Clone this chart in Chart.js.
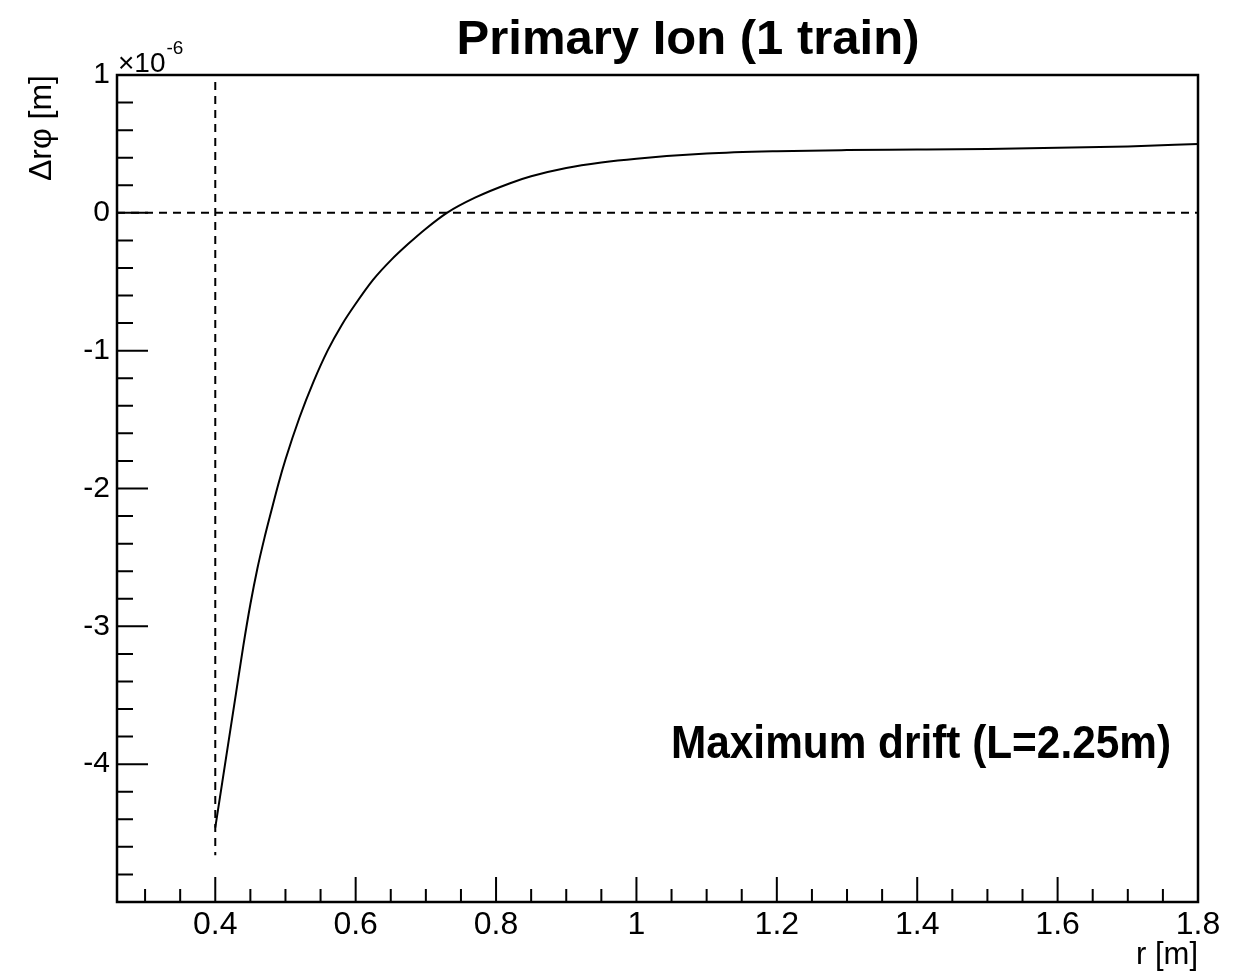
<!DOCTYPE html>
<html><head><meta charset="utf-8">
<script src="https://cdn.jsdelivr.net/npm/chart.js@4.4.1/dist/chart.umd.min.js"></script>
<style>html,body{margin:0;padding:0;background:#fff;}#wrap{width:1245px;height:971px;}</style>
</head><body><div id="wrap"><canvas id="c" width="1245" height="971"></canvas></div>
<script>
// ---- data (Δrφ in units of 1e-6 m) ----
const rValues     = [0.40,0.41,0.42,0.43,0.44,0.45,0.46,0.47,0.48,0.49,0.50,0.52,0.54,0.56,0.58,0.60,0.625,0.65,0.675,0.70,0.73,0.77,0.82,0.85,0.90,0.95,1.00,1.10,1.20,1.30,1.40,1.50,1.60,1.70,1.80];
const drphiValues = [-4.46,-4.13,-3.80,-3.47,-3.14,-2.84,-2.58,-2.36,-2.16,-1.965,-1.79,-1.485,-1.225,-1.00,-0.815,-0.66,-0.485,-0.345,-0.225,-0.115,0.00,0.11,0.215,0.265,0.325,0.365,0.393,0.43,0.447,0.455,0.459,0.464,0.472,0.482,0.499];
const zeroLineX   = [0.26, 1.80];
const zeroLineY   = [0, 0];
const markerLineX = [0.40, 0.40];
const markerLineY = [0.95, -4.66];
const xTickValues = [0.4,0.6,0.8,1.0,1.2,1.4,1.6,1.8];
const yTickValues = [-4,-3,-2,-1,0,1];
const xRange = [0.26, 1.80];
const yRange = [-5, 1];
const titleText = 'Primary Ion (1 train)';
const noteText  = 'Maximum drift (L=2.25m)';
const xTitleText = 'r [m]';
const yTitleText = 'Δrφ [m]';
const FONT = "'Liberation Sans', Arial, Helvetica, sans-serif";

const toPts = (xs, ys) => xs.map((x, i) => ({x, y: ys[i]}));

const rootPlugin = {
  id: 'rootStyle',
  afterDraw(chart) {
    const ctx = chart.ctx, a = chart.chartArea;
    const xs = chart.scales.x, ys = chart.scales.y;
    ctx.save();
    ctx.strokeStyle = '#000';
    ctx.fillStyle = '#000';
    ctx.lineWidth = 2;
    ctx.beginPath();
    for (let k = 0; k <= 30; k++) {
      const v = yRange[0] + k * 0.2;
      const p = ys.getPixelForValue(v);
      const major = Math.abs(v - Math.round(v)) < 1e-6;
      ctx.moveTo(a.left, p); ctx.lineTo(a.left + (major ? 31 : 16), p);
    }
    for (let k = 6; k <= 36; k++) {
      const v = k * 0.05;
      if (v < xRange[0] || v > xRange[1] + 1e-9) continue;
      const p = xs.getPixelForValue(v);
      const major = Math.abs(v * 5 - Math.round(v * 5)) < 1e-6;
      ctx.moveTo(p, a.bottom); ctx.lineTo(p, a.bottom - (major ? 25 : 13));
    }
    ctx.stroke();
    ctx.lineWidth = 2.5;
    ctx.strokeRect(a.left, a.top, a.right - a.left, a.bottom - a.top);
    // title
    ctx.font = 'bold 49px ' + FONT;
    ctx.textAlign = 'center';
    ctx.textBaseline = 'alphabetic';
    ctx.fillText(titleText, 688, 54);
    // note, slightly condensed
    ctx.font = 'bold 47px ' + FONT;
    const w = ctx.measureText(noteText).width;
    const target = 500;
    ctx.save();
    ctx.translate(671, 758);
    ctx.scale(target / w, 1);
    ctx.textAlign = 'left';
    ctx.fillText(noteText, 0, 0);
    ctx.restore();
    // exponent
    ctx.textAlign = 'left';
    ctx.font = '28px ' + FONT;
    ctx.fillText('×10', a.left + 1, 72);
    const ew = ctx.measureText('×10').width;
    ctx.font = '19px ' + FONT;
    ctx.fillText('-6', a.left + 2 + ew, 54);
    ctx.restore();
  }
};

new Chart(document.getElementById('c'), {
  type: 'line',
  data: {
    datasets: [
      { data: toPts(rValues, drphiValues), borderColor: '#000', borderWidth: 2, pointRadius: 0, cubicInterpolationMode: 'monotone', fill: false },
      { data: toPts(zeroLineX, zeroLineY), borderColor: '#000', borderWidth: 2, borderDash: [8, 6], pointRadius: 0, fill: false },
      { data: toPts(markerLineX, markerLineY), borderColor: '#000', borderWidth: 2, borderDash: [8, 6], pointRadius: 0, fill: false }
    ]
  },
  options: {
    responsive: false, animation: false, devicePixelRatio: 1,
    parsing: false, normalized: true,
    layout: { padding: { top: 75, right: 47, left: 0, bottom: 0 } },
    plugins: { legend: { display: false }, tooltip: { enabled: false }, title: { display: false } },
    scales: {
      x: {
        type: 'linear', min: xRange[0], max: xRange[1],
        afterBuildTicks: s => { s.ticks = xTickValues.map(v => ({ value: v })); },
        afterFit: s => { s.height = 69; },
        grid: { display: false, drawTicks: false }, border: { display: false },
        ticks: { padding: 4, color: '#000', maxRotation: 0, autoSkip: false, font: { family: FONT, size: 32 },
                 callback: v => String(+(+v).toFixed(2)) },
        title: { display: true, text: xTitleText, align: 'end', color: '#000', font: { family: FONT, size: 31 }, padding: { top: 0, bottom: -3 } }
      },
      y: {
        type: 'linear', min: yRange[0], max: yRange[1],
        afterBuildTicks: s => { s.ticks = yTickValues.map(v => ({ value: v })); },
        afterFit: s => { s.width = 117; },
        grid: { display: false, drawTicks: false }, border: { display: false },
        ticks: { padding: 7, color: '#000', autoSkip: false, font: { family: FONT, size: 30 },
                 callback: v => String(v) },
        title: { display: true, text: yTitleText, align: 'end', color: '#000', font: { family: FONT, size: 32 }, padding: { top: 23, bottom: 0 } }
      }
    }
  },
  plugins: [rootPlugin]
});
</script></body></html>
